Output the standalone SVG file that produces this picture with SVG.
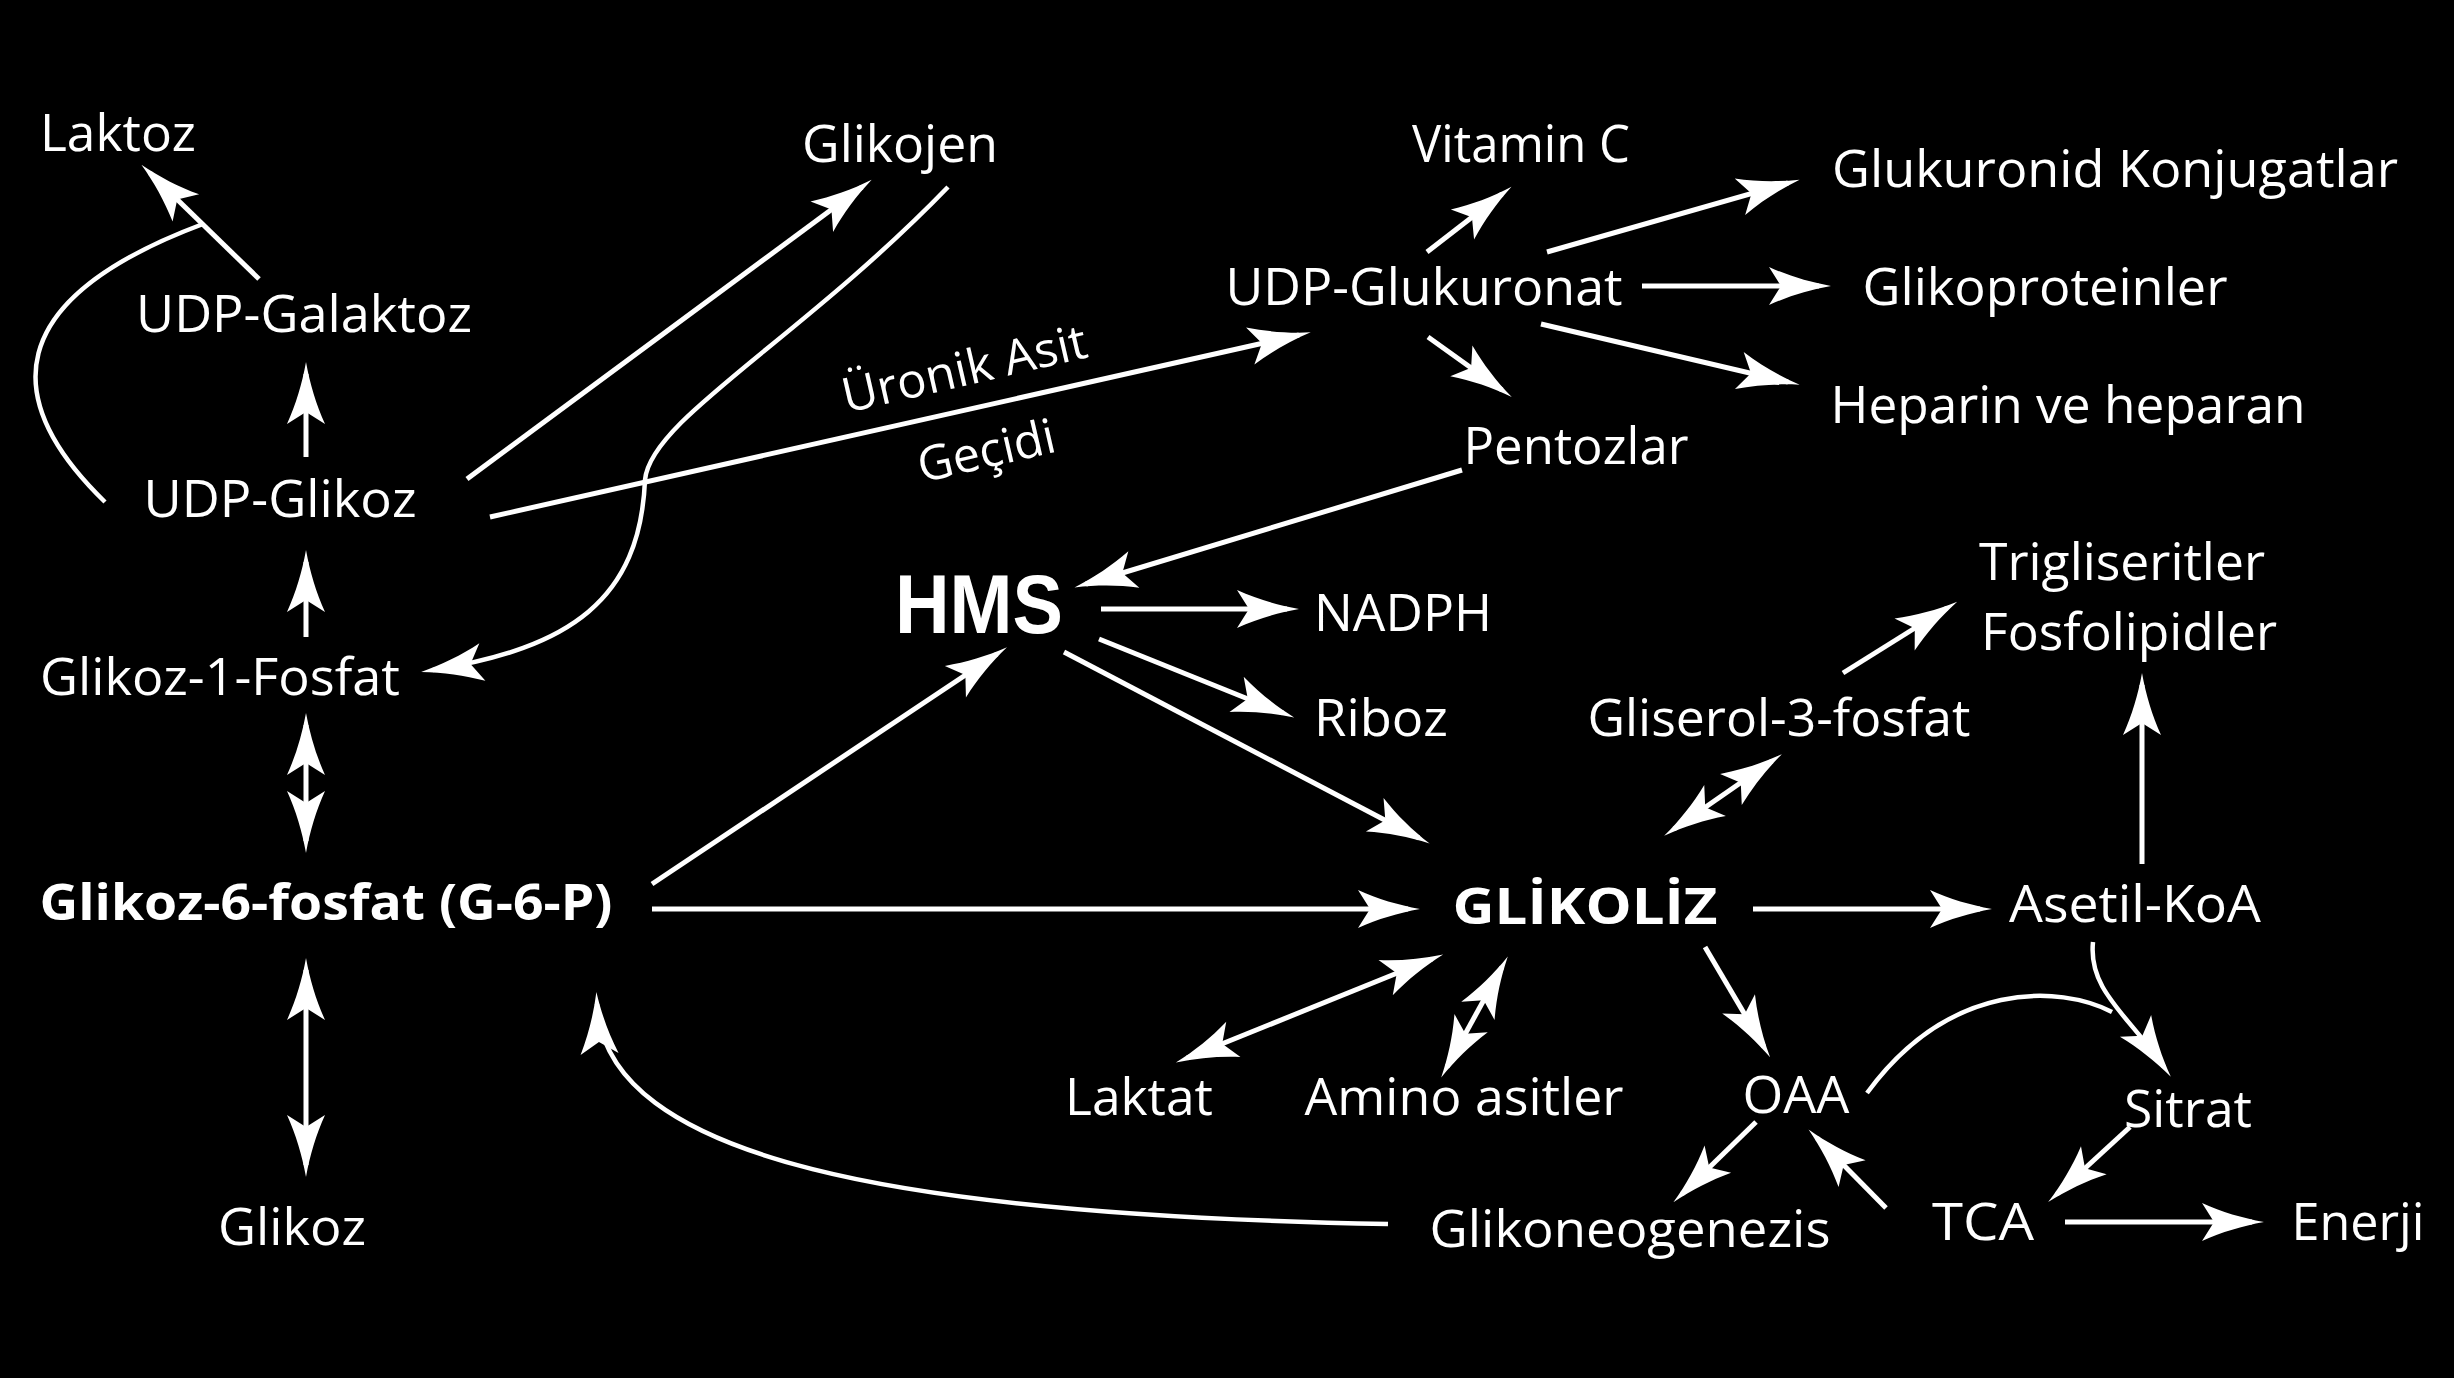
<svg xmlns="http://www.w3.org/2000/svg" width="2454" height="1378" viewBox="0 0 2454 1378">
<style>
text{fill:#fff;font-family:"Open Sans","Noto Sans","Liberation Sans",sans-serif;font-size:52px;text-anchor:middle}
.b{font-weight:700;font-size:50px}
.hms{font-family:"Liberation Sans",Arial,sans-serif;font-weight:700;font-size:84px}
.s{font-size:48px}
.c path{fill:none;stroke:#fff;stroke-width:5;marker-end:url(#ah)}
.c path.d{marker-start:url(#ah)}
.c path.n{marker-end:none}
.c path.cv{stroke-width:4.5}
</style>
<defs>
<marker id="ah" markerUnits="userSpaceOnUse" viewBox="-55 -22 70 44" markerWidth="70" markerHeight="44" refX="0" refY="0" orient="auto-start-reverse">
<path d="M12,0 C-10,-4 -30,-10 -50,-19 L-38,0 L-50,19 C-30,10 -10,4 12,0 Z" fill="#fff"/>
</marker>
</defs>
<rect width="2454" height="1378" fill="#000"/>
<g class="c" id="connectors">
<path d="M259,279 L150,173"/>
<path class="n cv" d="M105,502 C0,400 0,300 203,224"/>
<path d="M306,457 L306,374"/>
<path d="M306,637 L306,562"/>
<path class="d" d="M306,725 L306,841"/>
<path class="d" d="M306,970 L306,1165"/>
<path class="cv" d="M948,187 C800,340 650,420 645,480 C640,600 570,648 433,670"/>
<path d="M467,479 L862,187"/>
<path d="M490,517 L1299,335"/>
<path d="M1427,252 L1502,194"/>
<path d="M1547,252 L1788,183"/>
<path d="M1642,286 L1819,286"/>
<path d="M1541,324 L1788,382"/>
<path d="M1428,337 L1502,390"/>
<path d="M1462,470 L1086,584"/>
<path d="M1101,609 L1287,609"/>
<path d="M1099,639 L1283,713"/>
<path d="M1064,652 L1419,838"/>
<path d="M652,884 L997,654"/>
<path d="M652,909 L1408,909"/>
<path class="cv" d="M1388,1224 C900,1215 605,1160 597,1004"/>
<path d="M1753,909 L1980,909"/>
<path class="d" d="M1187,1058 L1432,959"/>
<path class="d" d="M1447,1067 L1502,967"/>
<path d="M1705,947 L1764,1047"/>
<path class="cv" d="M2093,942 C2088,990 2128,1015 2164,1067"/>
<path class="n cv" d="M1867,1093 C1950,980 2060,985 2112,1012"/>
<path d="M2130,1127 L2057,1194"/>
<path d="M1886,1208 L1817,1138"/>
<path d="M1756,1122 L1682,1194"/>
<path d="M2065,1222 L2252,1222"/>
<path class="d" d="M1674,829 L1772,761"/>
<path d="M1843,673 L1947,608"/>
<path d="M2142,864 L2142,685"/>
</g>
<g id="n-laktoz"><text x="118" y="151" textLength="156" lengthAdjust="spacingAndGlyphs">Laktoz</text></g>
<g id="n-udpgalaktoz"><text x="304" y="332" textLength="336" lengthAdjust="spacingAndGlyphs">UDP-Galaktoz</text></g>
<g id="n-udpglikoz"><text x="280" y="517" textLength="273" lengthAdjust="spacingAndGlyphs">UDP-Glikoz</text></g>
<g id="n-g1p"><text x="220" y="695" textLength="360" lengthAdjust="spacingAndGlyphs">Glikoz-1-Fosfat</text></g>
<g id="n-g6p"><text class="b" x="326" y="920" textLength="573" lengthAdjust="spacingAndGlyphs">Glikoz-6-fosfat (G-6-P)</text></g>
<g id="n-glikoz"><text x="292" y="1245" textLength="148" lengthAdjust="spacingAndGlyphs">Glikoz</text></g>
<g id="n-glikojen"><text x="900" y="162" textLength="196" lengthAdjust="spacingAndGlyphs">Glikojen</text></g>
<g id="n-vitc"><text x="1521" y="162" textLength="218" lengthAdjust="spacingAndGlyphs">Vitamin C</text></g>
<g id="n-glukuronid"><text x="2115" y="187" textLength="566" lengthAdjust="spacingAndGlyphs">Glukuronid Konjugatlar</text></g>
<g id="n-udpglukuronat"><text x="1424" y="305" textLength="397" lengthAdjust="spacingAndGlyphs">UDP-Glukuronat</text></g>
<g id="n-glikoprotein"><text x="2045" y="305" textLength="365" lengthAdjust="spacingAndGlyphs">Glikoproteinler</text></g>
<g id="n-heparin"><text x="2068" y="423" textLength="475" lengthAdjust="spacingAndGlyphs">Heparin ve heparan</text></g>
<g id="n-pentozlar"><text x="1576" y="464" textLength="225" lengthAdjust="spacingAndGlyphs">Pentozlar</text></g>
<g id="l-uronik">
<text class="s" transform="translate(968,385) rotate(-13)" textLength="250" lengthAdjust="spacingAndGlyphs">Üronik Asit</text>
<text class="s" transform="translate(990,467) rotate(-13)" textLength="140" lengthAdjust="spacingAndGlyphs">Geçidi</text>
</g>
<g id="n-hms"><text class="hms" x="979" y="633" textLength="168" lengthAdjust="spacingAndGlyphs">HMS</text></g>
<g id="n-nadph"><text x="1403" y="631" textLength="178" lengthAdjust="spacingAndGlyphs">NADPH</text></g>
<g id="n-riboz"><text x="1381" y="736" textLength="134" lengthAdjust="spacingAndGlyphs">Riboz</text></g>
<g id="n-gliserol"><text x="1779" y="736" textLength="383" lengthAdjust="spacingAndGlyphs">Gliserol-3-fosfat</text></g>
<g id="n-lipid">
<text x="2122" y="580" textLength="286" lengthAdjust="spacingAndGlyphs">Trigliseritler</text>
<text x="2129" y="650" textLength="296" lengthAdjust="spacingAndGlyphs">Fosfolipidler</text>
</g>
<g id="n-glikoliz"><text class="b" x="1585" y="924" textLength="265" lengthAdjust="spacingAndGlyphs">GLİKOLİZ</text></g>
<g id="n-asetil"><text x="2135" y="922" textLength="252" lengthAdjust="spacingAndGlyphs">Asetil-KoA</text></g>
<g id="n-laktat"><text x="1139" y="1115" textLength="148" lengthAdjust="spacingAndGlyphs">Laktat</text></g>
<g id="n-amino"><text x="1464" y="1115" textLength="319" lengthAdjust="spacingAndGlyphs">Amino asitler</text></g>
<g id="n-oaa"><text x="1796" y="1113" textLength="107" lengthAdjust="spacingAndGlyphs">OAA</text></g>
<g id="n-sitrat"><text x="2188" y="1127" textLength="128" lengthAdjust="spacingAndGlyphs">Sitrat</text></g>
<g id="n-glikoneo"><text x="1630" y="1247" textLength="401" lengthAdjust="spacingAndGlyphs">Glikoneogenezis</text></g>
<g id="n-tca"><text x="1983" y="1240" textLength="102" lengthAdjust="spacingAndGlyphs">TCA</text></g>
<g id="n-enerji"><text x="2358" y="1240" textLength="133" lengthAdjust="spacingAndGlyphs">Enerji</text></g>
</svg>
